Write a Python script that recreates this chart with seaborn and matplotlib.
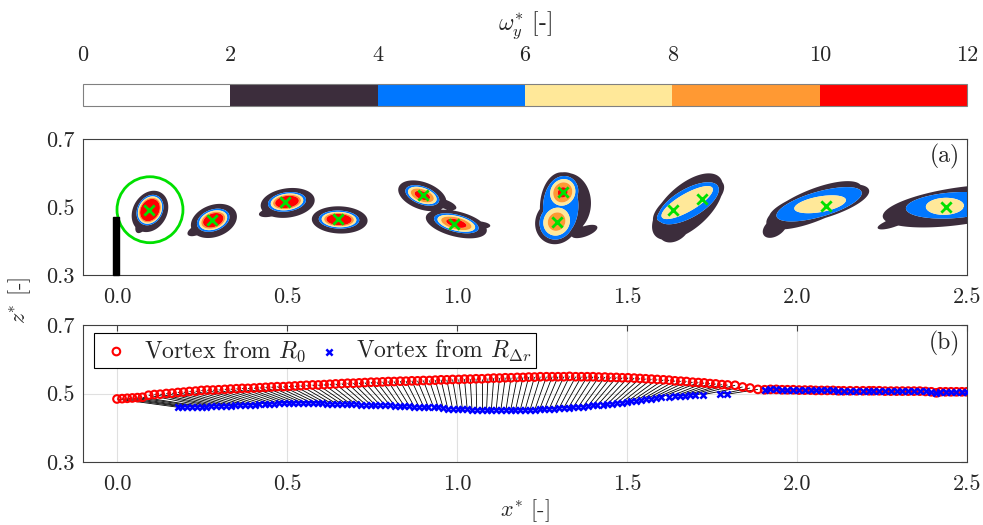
import numpy as np
import pandas as pd
import matplotlib
matplotlib.use("Agg")
import matplotlib.pyplot as plt
from matplotlib.collections import LineCollection
from matplotlib.patches import Circle, Rectangle
import seaborn as sns

sns.set_style("white")
plt.rcParams.update({
    "font.family": ["cmr10", "DejaVu Serif"],
    "mathtext.fontset": "cm",
    "axes.formatter.use_mathtext": True,
    "axes.unicode_minus": False,
})

# ---------------- data ----------------
level_bounds = [0, 2, 4, 6, 8, 10, 12]
level_colors = ["#ffffff", "#3c2d3c", "#0077ff", "#ffe899", "#ff9933", "#ff0000"]
x_ticks = [0.0, 0.5, 1.0, 1.5, 2.0, 2.5]
x_ticklabels = ["0.0", "0.5", "1.0", "1.5", "2.0", "2.5"]
z_ticks = [0.3, 0.5, 0.7]
z_ticklabels = ["0.3", "0.5", "0.7"]

# vorticity blob components (panel a): centre, half-axes, angle, amplitude, threshold, profile power
comp_x = [0.097, 0.097, 0.075,
          0.285, 0.283, 0.235,
          0.502, 0.500, 0.447,
          0.655, 0.653,
          0.898, 0.898, 0.965,
          0.998, 0.998, 1.070,
          1.322, 1.375, 1.305, 1.311, 1.293,
          1.678, 1.640, 1.681, 1.677,
          2.050, 1.935, 2.065, 2.068,
          2.480, 2.280, 2.460, 2.435]
comp_z = [0.487, 0.491, 0.452,
          0.459, 0.461, 0.432,
          0.512, 0.515, 0.483,
          0.462, 0.463,
          0.533, 0.534, 0.508,
          0.450, 0.452, 0.447,
          0.510, 0.428, 0.501, 0.543, 0.457,
          0.501, 0.440, 0.511, 0.513,
          0.505, 0.440, 0.508, 0.508,
          0.503, 0.452, 0.505, 0.502]
comp_a = [0.064, 0.054, 0.032,
          0.070, 0.060, 0.030,
          0.080, 0.068, 0.030,
          0.082, 0.072,
          0.074, 0.062, 0.035,
          0.092, 0.080, 0.028,
          0.090, 0.040, 0.086, 0.040, 0.042,
          0.128, 0.052, 0.100, 0.086,
          0.150, 0.040, 0.130, 0.077,
          0.230, 0.045, 0.140, 0.056]
comp_b = [0.050, 0.042, 0.016,
          0.047, 0.038, 0.014,
          0.043, 0.034, 0.012,
          0.040, 0.032,
          0.040, 0.031, 0.013,
          0.037, 0.030, 0.010,
          0.072, 0.015, 0.052, 0.036, 0.038,
          0.064, 0.038, 0.042, 0.026,
          0.047, 0.025, 0.037, 0.023,
          0.055, 0.012, 0.038, 0.025]
comp_ang = [60, 60, 60,
            20, 20, 25,
            8, 8, 10,
            -2, -2,
            -20, -20, -20,
            -14, -14, -5,
            88, 20, 88, 60, 60,
            42, 40, 30, 30,
            22, 35, 16, 10,
            8, 18, 4, 2]
comp_amp = [3.6, 22, 3.6,
            3.6, 18, 3.6,
            3.6, 18, 3.6,
            3.6, 18,
            3.6, 11, 3.6,
            3.6, 11, 3.6,
            3.6, 3.6, 5.2, 10.5, 9.3,
            3.6, 3.6, 5.2, 7.0,
            3.6, 3.6, 5.2, 7.0,
            3.6, 3.6, 5.2, 7.0]
comp_thr = [2, 2, 2,
            2, 2, 2,
            2, 2, 2,
            2, 2,
            2, 2, 2,
            2, 2, 2,
            2, 2, 4, 6, 6,
            2, 2, 4, 6,
            2, 2, 4, 6,
            2, 2, 4, 6]
comp_pow = [4, 1.25, 4,
            4, 1.0, 4,
            4, 1.0, 4,
            4, 1.0,
            4, 1.5, 4,
            4, 1.5, 4,
            4, 4, 4, 1.3, 1.3,
            4, 4, 4, 4,
            4, 4, 4, 4,
            4, 4, 4, 4]

# vortex centres (green crosses)
center_x = [0.095, 0.278, 0.494, 0.649, 0.899, 0.992, 1.311, 1.293, 1.634, 1.720, 2.084, 2.438]
center_z = [0.491, 0.462, 0.516, 0.464, 0.535, 0.450, 0.545, 0.455, 0.491, 0.523, 0.504, 0.501]

# highlighted vortex and plate
circle_x, circle_z, circle_r = 0.097, 0.492, 0.097
plate_x0, plate_w, plate_z0, plate_h = -0.011, 0.018, 0.30, 0.171

# panel b: paired vortex positions
r0_x = [0.000, 0.015, 0.030, 0.045, 0.060, 0.075,
        0.093, 0.110, 0.127, 0.145, 0.162, 0.179, 0.196, 0.213, 0.231, 0.248,
        0.265, 0.282, 0.299, 0.317, 0.334, 0.351, 0.368, 0.385, 0.403, 0.420,
        0.437, 0.454, 0.471, 0.489, 0.506, 0.523, 0.540, 0.557, 0.575, 0.592,
        0.609, 0.626, 0.643, 0.661, 0.678, 0.695, 0.712, 0.729, 0.747, 0.764,
        0.781, 0.798, 0.815, 0.833, 0.850, 0.867, 0.884, 0.901, 0.919, 0.936,
        0.953, 0.970, 0.987, 1.005, 1.022, 1.039, 1.056, 1.073, 1.091, 1.108,
        1.125, 1.142, 1.159, 1.177, 1.194, 1.211, 1.228, 1.245, 1.263, 1.280,
        1.297, 1.314, 1.331, 1.349, 1.366, 1.383, 1.400, 1.417, 1.435, 1.452,
        1.469, 1.486, 1.503, 1.521, 1.538, 1.555, 1.572, 1.589, 1.607, 1.624,
        1.641, 1.658, 1.675, 1.693, 1.710, 1.727, 1.744, 1.761, 1.779, 1.796,
        1.818, 1.840, 1.862, 1.885]
r0_z = [0.484, 0.485, 0.486, 0.487, 0.488, 0.489,
        0.495, 0.497, 0.498, 0.500, 0.501, 0.503, 0.504, 0.506, 0.507, 0.509,
        0.510, 0.510, 0.511, 0.512, 0.513, 0.514, 0.515, 0.515, 0.516, 0.517,
        0.518, 0.519, 0.520, 0.520, 0.521, 0.522, 0.523, 0.524, 0.525, 0.525,
        0.526, 0.527, 0.528, 0.529, 0.530, 0.530, 0.531, 0.532, 0.533, 0.533,
        0.534, 0.535, 0.535, 0.536, 0.536, 0.537, 0.537, 0.538, 0.538, 0.539,
        0.540, 0.540, 0.541, 0.541, 0.542, 0.542, 0.543, 0.543, 0.544, 0.545,
        0.545, 0.546, 0.546, 0.547, 0.547, 0.548, 0.548, 0.549, 0.549, 0.549,
        0.549, 0.549, 0.550, 0.549, 0.549, 0.549, 0.549, 0.548, 0.548, 0.547,
        0.547, 0.546, 0.546, 0.545, 0.544, 0.543, 0.542, 0.541, 0.540, 0.539,
        0.537, 0.536, 0.535, 0.533, 0.532, 0.531, 0.529, 0.528, 0.526, 0.525,
        0.524, 0.519, 0.516, 0.512]
rdr_x = [0.178, 0.192, 0.206, 0.221, 0.235, 0.249, 0.263, 0.277, 0.292, 0.306,
         0.320, 0.334, 0.348, 0.363, 0.377, 0.391, 0.405, 0.419, 0.434, 0.448,
         0.462, 0.476, 0.490, 0.505, 0.519, 0.533, 0.547, 0.561, 0.576, 0.590,
         0.604, 0.618, 0.632, 0.647, 0.661, 0.675, 0.689, 0.703, 0.718, 0.732,
         0.746, 0.760, 0.774, 0.789, 0.803, 0.817, 0.831, 0.845, 0.860, 0.874,
         0.888, 0.902, 0.916, 0.931, 0.945, 0.959, 0.973, 0.987, 1.002, 1.016,
         1.030, 1.044, 1.058, 1.073, 1.087, 1.101, 1.115, 1.129, 1.144, 1.158,
         1.172, 1.186, 1.200, 1.215, 1.229, 1.243, 1.257, 1.271, 1.286, 1.300,
         1.314, 1.328, 1.342, 1.357, 1.371, 1.385, 1.399, 1.413, 1.428, 1.442,
         1.456, 1.470, 1.484, 1.499, 1.513, 1.527, 1.541, 1.555, 1.570,
         1.585, 1.600, 1.625, 1.640, 1.655, 1.670, 1.685, 1.700, 1.725, 1.775, 1.795]
rdr_z = [0.460, 0.461, 0.461, 0.461, 0.462, 0.462, 0.462, 0.463, 0.463, 0.463,
         0.464, 0.464, 0.465, 0.465, 0.466, 0.466, 0.467, 0.468, 0.469, 0.470,
         0.470, 0.471, 0.472, 0.472, 0.472, 0.472, 0.472, 0.471, 0.471, 0.471,
         0.471, 0.470, 0.470, 0.469, 0.469, 0.469, 0.468, 0.468, 0.467, 0.467,
         0.467, 0.466, 0.466, 0.465, 0.465, 0.464, 0.464, 0.463, 0.463, 0.462,
         0.462, 0.461, 0.461, 0.460, 0.460, 0.459, 0.455, 0.455, 0.454, 0.454,
         0.454, 0.453, 0.453, 0.453, 0.453, 0.452, 0.452, 0.452, 0.452, 0.452,
         0.452, 0.452, 0.452, 0.453, 0.453, 0.454, 0.454, 0.455, 0.456, 0.457,
         0.458, 0.459, 0.460, 0.461, 0.462, 0.463, 0.465, 0.466, 0.467, 0.469,
         0.470, 0.472, 0.473, 0.475, 0.477, 0.479, 0.481, 0.483, 0.485,
         0.487, 0.489, 0.491, 0.492, 0.493, 0.494, 0.495, 0.495, 0.497, 0.498, 0.498]
# panel b: merged vortex (both detections coincide)
merged_x = [1.905, 1.922, 1.939, 1.956, 1.972, 1.989, 2.006, 2.023, 2.040,
            2.055, 2.072, 2.089, 2.106, 2.122,
            2.137, 2.156, 2.175, 2.194, 2.212,
            2.225, 2.242, 2.259, 2.276, 2.293, 2.310, 2.327, 2.344, 2.361, 2.378, 2.395, 2.410,
            2.421, 2.437, 2.453, 2.469, 2.485, 2.500]
merged_z = [0.511, 0.512, 0.512, 0.511, 0.511, 0.511, 0.510, 0.510, 0.510,
            0.509, 0.509, 0.509, 0.509, 0.508,
            0.508, 0.508, 0.508, 0.508, 0.508,
            0.508, 0.508, 0.507, 0.507, 0.507, 0.507, 0.507, 0.507, 0.507, 0.506, 0.505, 0.502,
            0.505, 0.505, 0.505, 0.505, 0.505, 0.505]

label_r0 = r"Vortex from $R_0$"
label_rdr = r"Vortex from $R_{\Delta r}$"

# ---------------- figure ----------------
W, H = 983, 525
fig = plt.figure(figsize=(W / 100, H / 100), dpi=100)
cax = fig.add_axes([83 / W, 1 - 106 / H, 884 / W, 22 / H])
axa = fig.add_axes([83 / W, 1 - 275 / H, 884 / W, 136 / H])
axb = fig.add_axes([83 / W, 1 - 462 / H, 884 / W, 137 / H])

FS = 16
spine_col = "#404040"

# vorticity field from components
gx = np.linspace(-0.1, 2.5, 1400)
gz = np.linspace(0.3, 0.7, 260)
X, Z = np.meshgrid(gx, gz)
field = np.zeros_like(X)
for cx, cz, a, b, ang, amp, thr, pw in zip(comp_x, comp_z, comp_a, comp_b, comp_ang,
                                           comp_amp, comp_thr, comp_pow):
    th = np.deg2rad(ang)
    u = (X - cx) * np.cos(th) + (Z - cz) * np.sin(th)
    v = -(X - cx) * np.sin(th) + (Z - cz) * np.cos(th)
    q = (u / a) ** 2 + (v / b) ** 2
    field = np.maximum(field, amp * np.exp(-np.log(amp / thr) * q ** pw))
field = np.clip(field, 0, 11.99)

cf = axa.contourf(X, Z, field, levels=level_bounds, colors=level_colors, antialiased=True)

sns.scatterplot(x=center_x, y=center_z, ax=axa, marker="x", color="#00e000",
                s=55, linewidth=2.0, zorder=5, legend=False)
axa.add_patch(Circle((circle_x, circle_z), circle_r, fill=False, edgecolor="#00e000",
                     linewidth=2.0, zorder=6))
axa.add_patch(Rectangle((plate_x0, plate_z0), plate_w, plate_h, color="black", zorder=7,
                        clip_on=False))
axa.text(0.992, 0.868, "(a)", transform=axa.transAxes, ha="right", va="center", fontsize=FS + 1)

# colour bar
cb = fig.colorbar(cf, cax=cax, orientation="horizontal", ticks=level_bounds)
cax.xaxis.set_ticks_position("top")
cax.set_xticklabels([str(v) for v in level_bounds])
cax.tick_params(length=0, pad=14, labelsize=FS)
cb.outline.set_edgecolor("#808080")
cb.outline.set_linewidth(0.8)
fig.text(525 / W, 1 - 25 / H, r"$\omega_y^{*}$ [-]", ha="center", va="center", fontsize=FS + 1)

# panel b
seg = [[(x0, z0), (x1, z1)] for x0, z0, x1, z1 in zip(r0_x, r0_z, rdr_x, rdr_z)]
axb.add_collection(LineCollection(seg, colors="black", linewidths=0.6, zorder=2))

df_r0 = pd.DataFrame({"x": r0_x + merged_x, "z": r0_z + merged_z})
df_rdr = pd.DataFrame({"x": rdr_x + merged_x, "z": rdr_z + merged_z})
sns.scatterplot(data=df_r0, x="x", y="z", ax=axb, marker="o", s=30, facecolors="none",
                edgecolor="#ff0000", linewidth=1.5, zorder=3, label=label_r0)
sns.scatterplot(data=df_rdr, x="x", y="z", ax=axb, marker="x", color="#0000ff",
                s=20, linewidth=1.8, zorder=4, label=label_rdr)
axb.text(0.992, 0.866, "(b)", transform=axb.transAxes, ha="right", va="center", fontsize=FS + 1)

leg = axb.legend(loc="upper left", bbox_to_anchor=(0.0124, 0.9416), borderaxespad=0,
                 ncol=2, frameon=True, fancybox=False, edgecolor="black", framealpha=1,
                 fontsize=FS + 1, handlelength=1.5, handletextpad=0.4, columnspacing=0.25,
                 borderpad=0.2)
leg.get_frame().set_linewidth(0.8)
axb.grid(True, color="#e0e0e0", linewidth=0.8)
axb.set_axisbelow(True)

for ax in (axa, axb):
    ax.set_xlim(-0.1, 2.5)
    ax.set_ylim(0.3, 0.7)
    ax.set_xticks(x_ticks)
    ax.set_xticklabels(x_ticklabels)
    ax.set_yticks(z_ticks)
    ax.set_yticklabels(z_ticklabels)
    ax.set_xlabel("")
    ax.set_ylabel("")
    ax.tick_params(direction="in", length=4, width=0.8, color=spine_col,
                   top=True, right=True, labelsize=FS, pad=9)
    ax.tick_params(axis="y", pad=6)
    for sp in ax.spines.values():
        sp.set_visible(True)
        sp.set_color(spine_col)
        sp.set_linewidth(0.8)

axb.set_xlabel(r"$x^{*}$ [-]", fontsize=FS, labelpad=2)
fig.text(20 / W, 1 - 300 / H, r"$z^{*}$ [-]", rotation=90, ha="center", va="center", fontsize=FS)

fig.savefig("out.png", dpi=100)
